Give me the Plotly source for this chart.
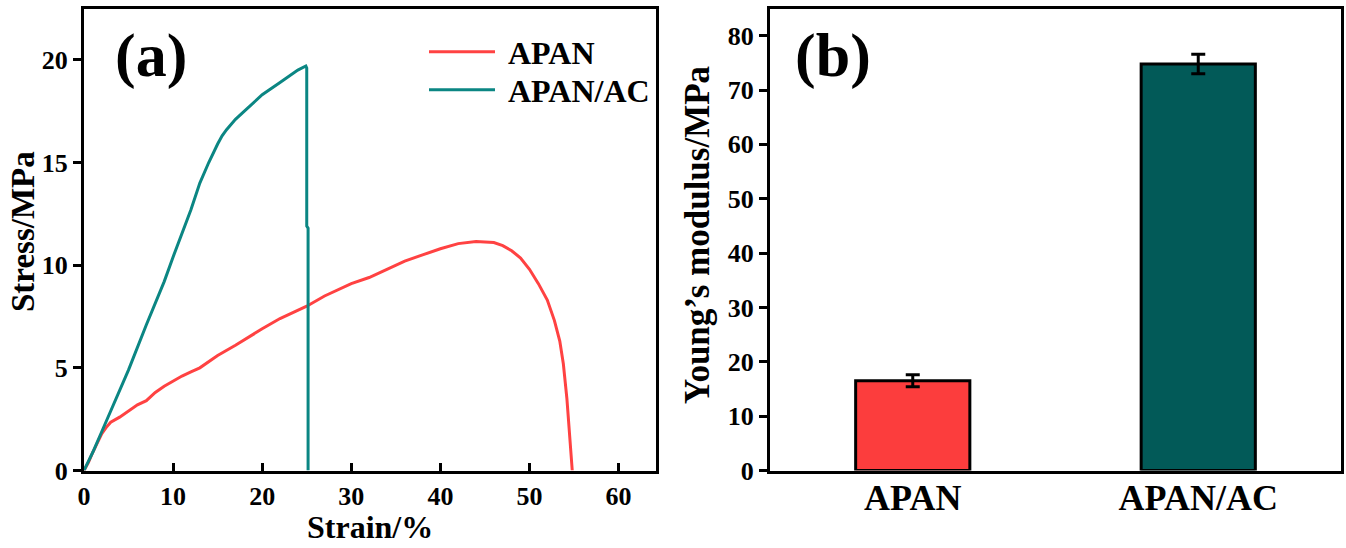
import plotly.graph_objects as go

# ---- data ----
apan_strain = [0, 0.5, 1, 1.5, 2, 2.5, 3, 4, 5, 6, 7, 8, 9, 10, 11, 12, 13, 15, 17, 20, 22, 25, 27, 30,
               32, 34, 36, 38, 40, 42, 44, 46, 47, 48, 49, 50, 51, 52, 52.8, 53.4, 53.8, 54.2, 54.5, 54.8]
apan_stress = [0, 0.4, 0.9, 1.35, 1.8, 2.1, 2.35, 2.6, 2.9, 3.2, 3.4, 3.8, 4.1, 4.35, 4.6, 4.8, 5.0, 5.6,
               6.1, 6.9, 7.4, 8.0, 8.5, 9.1, 9.4, 9.8, 10.2, 10.5, 10.8, 11.05, 11.15, 11.1, 10.95, 10.7,
               10.35, 9.8, 9.1, 8.3, 7.3, 6.3, 5.2, 3.5, 1.8, 0]
ac_strain = [0, 1, 2, 3, 5, 7, 9, 10, 12, 13, 14, 15, 15.5, 16, 17, 18, 20, 22, 24, 24.9, 25.0, 25.0, 25.15, 25.15]
ac_stress = [0, 0.9, 1.9, 2.9, 4.9, 7.1, 9.2, 10.4, 12.7, 14.0, 15.0, 15.9, 16.3, 16.6, 17.1, 17.5, 18.3, 18.9,
             19.5, 19.7, 19.6, 11.9, 11.8, 0]

samples = ["APAN", "APAN/AC"]
modulus = [16.5, 74.8]
modulus_err = [1.1, 1.8]

y_ticks_a = [0, 5, 10, 15, 20]
x_ticks_a = [0, 10, 20, 30, 40, 50, 60]
y_ticks_b = [0, 10, 20, 30, 40, 50, 60, 70, 80]

red = "#FF4242"
teal = "#0B8683"
bar_colors = ["#FC3D3D", "#025A58"]

FONT = "Liberation Serif"
tickfont = dict(family=FONT, size=26, color="black", weight="bold")

fig = go.Figure()
fig.add_trace(go.Scatter(x=apan_strain, y=apan_stress, mode="lines", name="\u00a0<b>APAN</b>",
                         line=dict(color=red, width=3), xaxis="x", yaxis="y", legend="legend"))
fig.add_trace(go.Scatter(x=ac_strain, y=ac_stress, mode="lines", name="\u00a0<b>APAN/AC</b>",
                         line=dict(color=teal, width=3), xaxis="x", yaxis="y", legend="legend2"))
fig.add_trace(go.Bar(x=[0, 1], y=modulus, width=0.4, showlegend=False,
                     marker=dict(color=bar_colors, line=dict(color="black", width=3)),
                     error_y=dict(type="data", array=modulus_err, color="black", thickness=3, width=7),
                     xaxis="x2", yaxis="y2"))

ydom = [1 - 470.5 / 548, 1 - 8.5 / 548]
axis_common = dict(showline=True, linewidth=3, linecolor="black", mirror=True, showgrid=False,
                   zeroline=False, ticks="outside", tickwidth=3, ticklen=8, tickcolor="black",
                   tickfont=tickfont, automargin=False)

leg_common = dict(xanchor="left", yanchor="middle", font=dict(family=FONT, size=32, color="black"),
                  bgcolor="rgba(0,0,0,0)", itemwidth=66)

fig.update_layout(
    width=1346, height=548, margin=dict(l=0, r=0, t=0, b=0),
    plot_bgcolor="white", paper_bgcolor="white",
    font=dict(family=FONT, color="black"),
    xaxis=dict(axis_common, domain=[84 / 1346, 656 / 1346], range=[0, 64.2], tickvals=x_ticks_a,
               ticks="inside", anchor="y"),
    yaxis=dict(axis_common, domain=ydom, range=[0, 22.5], tickvals=y_ticks_a, anchor="x"),
    xaxis2=dict(axis_common, domain=[770 / 1346, 1341 / 1346], range=[-0.5, 1.5], tickvals=[0, 1],
                ticktext=samples, ticks="", ticklabelstandoff=-7,
                tickfont=dict(family=FONT, size=36, color="black", weight="bold"), anchor="y2"),
    yaxis2=dict(axis_common, domain=ydom, range=[0, 85], tickvals=y_ticks_b, anchor="x2"),
    legend=dict(leg_common, x=424 / 1346, y=1 - 52 / 548),
    legend2=dict(leg_common, x=424 / 1346, y=1 - 90 / 548),
    showlegend=True,
)

fig.add_annotation(text="<b>Strain/%</b>", x=370 / 1346, y=1 - 527 / 548, xref="paper", yref="paper",
                   xanchor="center", yanchor="middle", showarrow=False,
                   font=dict(family=FONT, size=32, color="black"))
fig.add_annotation(text="<b>Stress/MPa</b>", x=23 / 1346, y=1 - 232 / 548, xref="paper", yref="paper",
                   xanchor="center", yanchor="middle", showarrow=False, textangle=-90,
                   font=dict(family=FONT, size=33, color="black"))
fig.add_annotation(text="<b>Young’s modulus/MPa</b>", x=698 / 1346, y=1 - 235 / 548, xref="paper",
                   yref="paper", xanchor="center", yanchor="middle", showarrow=False, textangle=-90,
                   font=dict(family=FONT, size=35, color="black"))

fig.add_annotation(text="<b>(a)</b>", x=113 / 1346, y=1 - 55 / 548, xref="paper", yref="paper",
                   xanchor="left", yanchor="middle", showarrow=False,
                   font=dict(family=FONT, size=62, color="black"))
fig.add_annotation(text="<b>(b)</b>", x=793 / 1346, y=1 - 55 / 548, xref="paper", yref="paper",
                   xanchor="left", yanchor="middle", showarrow=False,
                   font=dict(family=FONT, size=62, color="black"))

fig.write_html("out.html")
